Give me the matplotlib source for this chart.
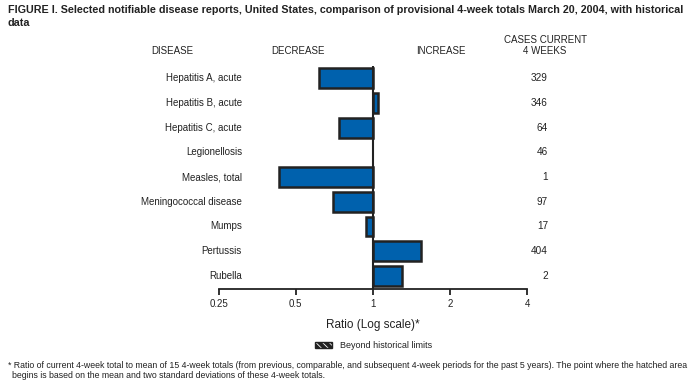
import matplotlib.pyplot as plt
from matplotlib.patches import Rectangle
from matplotlib.transforms import blended_transform_factory

plt.rcParams['font.family'] = ['Liberation Sans', 'DejaVu Sans']
plt.rcParams['hatch.linewidth'] = 0.6

diseases = ["Hepatitis A, acute", "Hepatitis B, acute", "Hepatitis C, acute",
            "Legionellosis", "Measles, total", "Meningococcal disease",
            "Mumps", "Pertussis", "Rubella"]
ratios = [0.615, 1.05, 0.74, 1.0, 0.43, 0.70, 0.94, 1.54, 1.30]
cases = [329, 346, 64, 46, 1, 97, 17, 404, 2]
ticks = [0.25, 0.5, 1, 2, 4]
tick_labels = ["0.25", "0.5", "1", "2", "4"]

W, H = 700, 387
INK = "#222222"
fig = plt.figure(figsize=(7, 3.87), dpi=100)


def fx(px):
    return px / W


def fy(py):
    return 1 - py / H


ax = fig.add_axes([fx(218.5), fy(289.3), fx(527.3) - fx(218.5), fy(66) - fy(289.3)])
ax.set_xscale("log", base=2)
ax.set_xlim(0.25, 4)
ax.set_ylim(8.55, -0.5)

y = list(range(len(diseases)))
for yi, r in zip(y, ratios):
    if r == 1.0:
        continue
    left = min(1.0, r)
    width = max(1.0, r) - left
    ax.barh(yi, width, left=left, height=0.8, color="#0061AD",
            edgecolor=INK, linewidth=1.8, zorder=2)

ax.axvline(1, color=INK, linewidth=1.5, zorder=3)

for s in ["top", "right", "left"]:
    ax.spines[s].set_visible(False)
ax.spines["bottom"].set_linewidth(1.3)
ax.spines["bottom"].set_color(INK)
ax.set_yticks([])
ax.set_xticks(ticks)
ax.set_xticklabels(tick_labels)
ax.minorticks_off()
ax.tick_params(axis="x", direction="out", length=4, width=1.3,
               labelsize=7, pad=3, colors=INK)

# disease labels and case counts
tr = blended_transform_factory(fig.transFigure, ax.transData)
for yi, name, c in zip(y, diseases, cases):
    ax.text(fx(242), yi, name, transform=tr, ha="right", va="center",
            fontsize=7, color=INK)
    ax.text(fx(548), yi, str(c), transform=tr, ha="right", va="center",
            fontsize=7.2, color=INK)

# title
fig.text(fx(8), fy(10), "FIGURE I. Selected notifiable disease reports, United States, comparison of "
         "provisional 4-week totals March 20, 2004, with historical",
         ha="left", va="center", fontsize=7.75, fontweight="bold", color=INK)
fig.text(fx(8), fy(23), "data", ha="left", va="center", fontsize=7.75,
         fontweight="bold", color=INK)

# headers
fig.text(fx(172), fy(51), "DISEASE", ha="center", va="center", fontsize=7, color=INK)
fig.text(fx(298), fy(51), "DECREASE", ha="center", va="center", fontsize=7, color=INK)
fig.text(fx(441), fy(51), "INCREASE", ha="center", va="center", fontsize=7, color=INK)
fig.text(fx(545), fy(40), "CASES CURRENT", ha="center", va="center", fontsize=7, color=INK)
fig.text(fx(545), fy(51), "4 WEEKS", ha="center", va="center", fontsize=7, color=INK)

# x label
fig.text(fx(373), fy(325), "Ratio (Log scale)*", ha="center", va="center",
         fontsize=8.5, color=INK)

# legend: hatched box
box = (fx(315), fy(348))
bw, bh = fx(17), fy(342) - fy(348)
fig.patches.append(Rectangle(box, bw, bh, transform=fig.transFigure,
                             facecolor=INK, edgecolor="white", hatch="\\" * 5,
                             linewidth=0))
fig.patches.append(Rectangle(box, bw, bh, transform=fig.transFigure,
                             facecolor="none", edgecolor=INK, linewidth=1.0))
fig.text(fx(340), fy(345), "Beyond historical limits", ha="left", va="center",
         fontsize=6.5, color=INK)

# footnote
fig.text(fx(8), fy(366), "* Ratio of current 4-week total to mean of 15 4-week totals (from previous, "
         "comparable, and subsequent 4-week periods for the past 5 years). The point where the hatched area",
         ha="left", va="center", fontsize=6.3, color=INK)
fig.text(fx(12), fy(376), "begins is based on the mean and two standard deviations of these 4-week totals.",
         ha="left", va="center", fontsize=6.3, color=INK)

fig.savefig("out.png", dpi=100)
